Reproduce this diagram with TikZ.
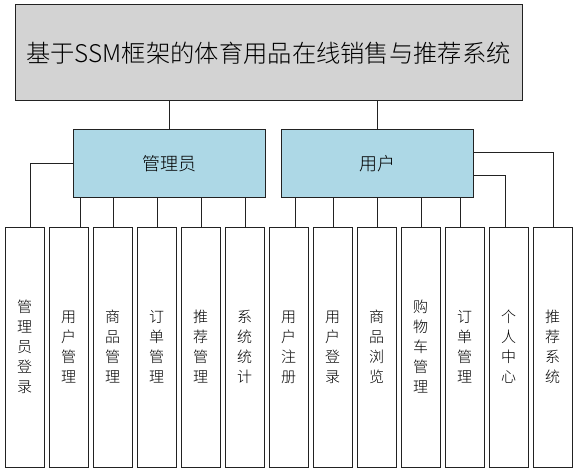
\documentclass[tikz,border=0pt]{standalone}
\usepackage{fontspec}
\newfontfamily\cjk{Noto Sans CJK SC Light}
\definecolor{topgray}{HTML}{D3D3D3}
\definecolor{roleblue}{HTML}{ADD8E6}
\definecolor{edge}{HTML}{222222}
\tikzset{
  box/.style={draw=edge, line width=1pt, inner sep=0pt, align=center},
  topbox/.style={box, fill=topgray, minimum width=507pt, minimum height=96pt, font=\cjk\fontsize{24.3}{30}\selectfont},
  rolebox/.style={box, fill=roleblue, minimum width=192pt, minimum height=67pt, font=\cjk\fontsize{18}{22}\selectfont},
  funcbox/.style={box, fill=white, minimum width=39pt, minimum height=240pt, font=\cjk\fontsize{15}{20}\selectfont},
  link/.style={draw=edge, line width=1pt}
}
\begin{document}
\begin{tikzpicture}[x=1pt,y=-1pt]
\useasboundingbox (0,0) rectangle (577,473);
\node[topbox] (top) at (268.5,53) {基于SSM框架的体育用品在线销售与推荐系统};
\node[rolebox] (admin) at (169,163.5) {管理员};
\node[rolebox] (user) at (377.5,163.5) {用户};
\node[funcbox] (b0) at (24.5,347) {管\\理\\员\\登\\录};
\node[funcbox] (b1) at (68.5,347) {用\\户\\管\\理};
\node[funcbox] (b2) at (112.5,347) {商\\品\\管\\理};
\node[funcbox] (b3) at (156.5,347) {订\\单\\管\\理};
\node[funcbox] (b4) at (200.5,347) {推\\荐\\管\\理};
\node[funcbox] (b5) at (244.5,347) {系\\统\\统\\计};
\node[funcbox] (b6) at (288.5,347) {用\\户\\注\\册};
\node[funcbox] (b7) at (332.5,347) {用\\户\\登\\录};
\node[funcbox] (b8) at (376.5,347) {商\\品\\浏\\览};
\node[funcbox] (b9) at (420.5,347) {购\\物\\车\\管\\理};
\node[funcbox] (b10) at (464.5,347) {订\\单\\管\\理};
\node[funcbox] (b11) at (508.5,347) {个\\人\\中\\心};
\node[funcbox] (b12) at (552.5,347) {推\\荐\\系\\统};
% connector x positions
\coordinate (x0) at (30,0);
\coordinate (x1) at (80,0);
\coordinate (x2) at (113,0);
\coordinate (x3) at (157,0);
\coordinate (x4) at (201,0);
\coordinate (x5) at (245,0);
\coordinate (x6) at (295,0);
\coordinate (x7) at (333,0);
\coordinate (x8) at (377,0);
\coordinate (x9) at (421,0);
\coordinate (x10) at (460,0);
\coordinate (x11) at (505,0);
\coordinate (x12) at (553,0);
\draw[link] (top.south -| admin.north) -- (admin.north);
\draw[link] (top.south -| user.north) -- (user.north);
\draw[link] (admin.west) -| (x0 |- b0.north);
\foreach \i in {1,...,5} {
  \draw[link] (x\i |- admin.south) -- (x\i |- b\i.north);
}
\foreach \i in {6,...,10} {
  \draw[link] (x\i |- user.south) -- (x\i |- b\i.north);
}
\draw[link] ([yshift=-11.5pt]user.east) -| (x11 |- b11.north);
\draw[link] ([yshift=11.5pt]user.east) -| (x12 |- b12.north);
\end{tikzpicture}
\end{document}
